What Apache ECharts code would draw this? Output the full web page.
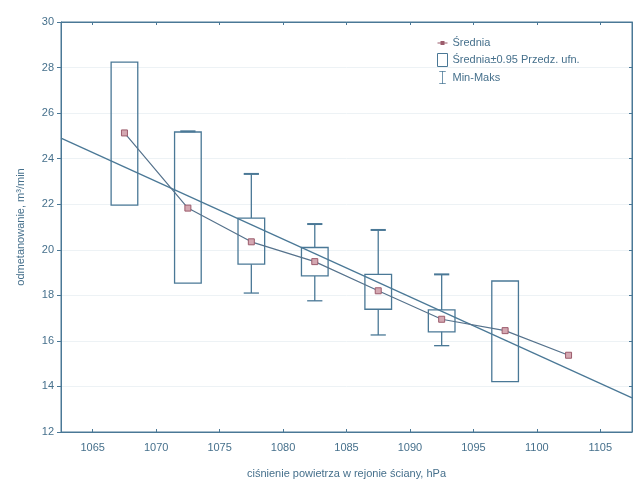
<!DOCTYPE html>
<html>
<head>
<meta charset="utf-8">
<script src="https://cdn.jsdelivr.net/npm/echarts@6/dist/echarts.min.js"></script>
<style>
html,body{margin:0;padding:0;background:#fff;}
#chart{width:634px;height:479px;}
</style>
</head>
<body>
<div id="chart"></div>
<script>
//dane
var cisnienie = [1067.5, 1072.5, 1077.5, 1082.5, 1087.5, 1092.5, 1097.5, 1102.5];
var srednia   = [25.13, 21.83, 20.35, 19.48, 18.2, 16.95, 16.45, 15.37];
var boxDol    = [21.96, 18.54, 19.37, 18.85, 17.39, 16.4, 14.21, null];   //średnia-0.95 przedz. ufn.
var boxGora   = [28.24, 25.17, 21.39, 20.1, 18.92, 17.36, 18.63, null];   //średnia+0.95 przedz. ufn.
var minV      = [null, null, 18.1, 17.76, 16.26, 15.79, null, null];
var maxV      = [null, 25.2, 23.33, 21.13, 20.87, 18.92, null, null];
var regX      = [1062.5, 1107.5];                                         //prosta regresji
var regY      = [24.9, 13.5];
var xTicks    = [1065, 1070, 1075, 1080, 1085, 1090, 1095, 1100, 1105];

var kolor = '#4a7896';
var kolorTekst = '#46708c';
var font = 'Liberation Sans';

var boxData = [], whiskData = [], meanData = [], regData = [];
for (var i = 0; i < cisnienie.length; i++) {
	if (boxDol[i] != null) boxData.push([cisnienie[i], boxDol[i], boxGora[i]]);
	if (minV[i] != null || maxV[i] != null) whiskData.push([cisnienie[i], minV[i], maxV[i], boxDol[i], boxGora[i]]);
	meanData.push([cisnienie[i], srednia[i]]);
}
for (var j = 0; j < regX.length; j++) regData.push([regX[j], regY[j]]);

var chart = echarts.init(document.getElementById('chart'));
var option = {
	backgroundColor: '#fff',
	animation: false,
	textStyle: {fontFamily: font},
	grid: {left: 61, right: 2, top: 22, bottom: 47, show: true, borderColor: kolor, borderWidth: 1, outerBoundsMode: 'none', containLabel: false},
	legend: {
		orient: 'vertical',
		left: 432, top: 32,
		itemWidth: 10, itemHeight: 13, itemGap: 4,
		textStyle: {color: kolorTekst, fontSize: 11, fontFamily: font},
		selectedMode: false,
		data: [
			{name: 'Średnia', icon: 'path://M0,5.5H3V4H7V5.5H10V6.5H7V8H3V6.5H0ZM0,0H0.01V0.01H0ZM9.99,11.99H10V12H9.99Z', itemStyle: {color: '#9c5c6c', borderWidth: 0}},
			{name: 'Średnia±0.95 Przedz. ufn.', icon: 'rect', itemStyle: {color: 'rgba(0,0,0,0)', borderColor: kolor, borderWidth: 1}},
			{name: 'Min-Maks', icon: 'path://M0,0H10V1.2H5.6V18.8H10V20H0V18.8H4.4V1.2H0Z', itemStyle: {color: kolor, borderWidth: 0}}
		]
	},
	xAxis: [{
		type: 'value', min: 1062.5, max: 1107.5,
		name: 'ciśnienie powietrza w rejonie ściany, hPa',
		nameLocation: 'middle', nameGap: 36,
		nameTextStyle: {color: kolorTekst, fontSize: 11},
		axisLine: {show: true, lineStyle: {color: kolor}},
		axisTick: {show: true, inside: true, length: 3, customValues: xTicks, lineStyle: {color: kolor}},
		axisLabel: {color: kolorTekst, fontSize: 11, margin: 10, customValues: xTicks, formatter: function (v) { return String(v); }},
		splitLine: {show: false}
	}, {
		type: 'value', min: 1062.5, max: 1107.5, position: 'top',
		axisLine: {show: true, lineStyle: {color: kolor}},
		axisTick: {show: true, inside: true, length: 3, customValues: xTicks, lineStyle: {color: kolor}},
		axisLabel: {show: false, customValues: xTicks},
		splitLine: {show: false}
	}],
	yAxis: [{
		type: 'value', min: 12, max: 30, interval: 2,
		name: 'odmetanowanie, m³/min',
		nameLocation: 'middle', nameGap: 35,
		nameTextStyle: {color: kolorTekst, fontSize: 11},
		axisLine: {show: true, lineStyle: {color: kolor}},
		axisTick: {show: true, length: 4, lineStyle: {color: kolor}},
		axisLabel: {color: kolorTekst, fontSize: 11, margin: 7},
		splitLine: {show: true, lineStyle: {color: '#edf2f5', width: 1}}
	}, {
		type: 'value', min: 12, max: 30, interval: 2, position: 'right',
		axisLine: {show: true, lineStyle: {color: kolor}},
		axisTick: {show: true, inside: true, length: 3, lineStyle: {color: kolor}},
		axisLabel: {show: false},
		splitLine: {show: false}
	}],
	series: [{
		name: 'Średnia±0.95 Przedz. ufn.',
		type: 'custom',
		data: boxData,
		renderItem: function (params, api) {
			var x = api.value(0);
			var lo = api.coord([x - 1.05, api.value(1)]);
			var hi = api.coord([x + 1.05, api.value(2)]);
			return {
				type: 'rect',
				shape: {x: lo[0], y: hi[1], width: hi[0] - lo[0], height: lo[1] - hi[1]},
				style: {fill: 'none', stroke: kolor, lineWidth: 1.3}
			};
		},
		z: 2
	}, {
		name: 'Min-Maks',
		type: 'custom',
		data: whiskData,
		renderItem: function (params, api) {
			var x = api.value(0);
			var kids = [];
			var cap = 0.6;
			if (!isNaN(api.value(1))) {
				var a = api.coord([x, api.value(3)]), b = api.coord([x, api.value(1)]);
				var c1 = api.coord([x - cap, api.value(1)]), c2 = api.coord([x + cap, api.value(1)]);
				kids.push({type: 'line', shape: {x1: a[0], y1: a[1], x2: b[0], y2: b[1]}, style: {stroke: kolor, lineWidth: 1.3}});
				kids.push({type: 'line', shape: {x1: c1[0], y1: c1[1], x2: c2[0], y2: c2[1]}, style: {stroke: kolor, lineWidth: 1.3}});
			}
			if (!isNaN(api.value(2))) {
				var d = api.coord([x, api.value(4)]), e = api.coord([x, api.value(2)]);
				var c3 = api.coord([x - cap, api.value(2)]), c4 = api.coord([x + cap, api.value(2)]);
				kids.push({type: 'line', shape: {x1: d[0], y1: d[1], x2: e[0], y2: e[1]}, style: {stroke: kolor, lineWidth: 1.3}});
				kids.push({type: 'line', shape: {x1: c3[0], y1: c3[1], x2: c4[0], y2: c4[1]}, style: {stroke: kolor, lineWidth: 2}});
			}
			return {type: 'group', children: kids};
		},
		z: 2
	}, {
		name: 'regresja',
		type: 'line',
		data: regData,
		symbol: 'none',
		lineStyle: {color: kolor, width: 1.3},
		z: 3
	}, {
		name: 'Średnia',
		type: 'line',
		data: meanData,
		symbol: 'rect',
		symbolSize: 6,
		itemStyle: {color: '#d4a8b2', borderColor: '#9c5c6c', borderWidth: 1},
		lineStyle: {color: '#55728c', width: 1.2},
		z: 4
	}]
};
chart.setOption(option);
</script>
</body>
</html>
